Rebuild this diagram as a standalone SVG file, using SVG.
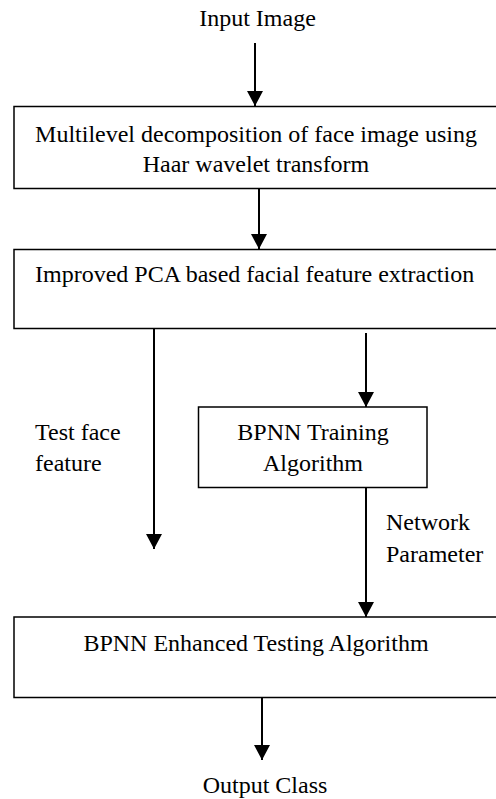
<svg xmlns="http://www.w3.org/2000/svg" width="496" height="799" viewBox="0 0 496 799">
  <style>
    text { font-family: "Liberation Serif", "Times New Roman", serif; font-size: 24px; fill: #000; }
    .box { fill: #fff; stroke: #000; stroke-width: 1.5; }
    .link { stroke: #000; stroke-width: 2; fill: none; marker-end: url(#head); }
  </style>
  <defs>
    <marker id="head" markerUnits="userSpaceOnUse" markerWidth="16" markerHeight="16" refX="15" refY="8" orient="auto">
      <polygon points="0,0 15,8 0,16" fill="#000"/>
    </marker>
  </defs>

  <rect width="496" height="799" fill="#fff"/>

  <!-- connectors -->
  <g id="connectors">
    <line class="link" x1="255" y1="43" x2="255" y2="106"/>
    <line class="link" x1="259" y1="189" x2="259" y2="249"/>
    <line class="link" x1="154" y1="329" x2="154" y2="549"/>
    <line class="link" x1="366" y1="333" x2="366" y2="407"/>
    <line class="link" x1="366" y1="488" x2="366" y2="617"/>
    <line class="link" x1="262" y1="698" x2="262" y2="760"/>
  </g>

  <!-- labels -->
  <g id="input-label">
    <text x="257.5" y="26" text-anchor="middle">Input Image</text>
  </g>

  <g id="decomposition">
    <rect class="box" x="14" y="106.5" width="490" height="82"/>
    <text x="256" y="141.5" text-anchor="middle">Multilevel decomposition of face image using</text>
    <text x="256" y="171.5" text-anchor="middle">Haar wavelet transform</text>
  </g>

  <g id="feature-extraction">
    <rect class="box" x="14" y="249.5" width="490" height="79"/>
    <text x="35" y="282">Improved PCA based facial feature extraction</text>
  </g>

  <g id="test-feature-label">
    <text x="35" y="440">Test face</text>
    <text x="35" y="470.5">feature</text>
  </g>

  <g id="training">
    <rect class="box" x="198.5" y="407" width="228.5" height="80.5"/>
    <text x="313" y="440" text-anchor="middle">BPNN Training</text>
    <text x="313" y="470.5" text-anchor="middle">Algorithm</text>
  </g>

  <g id="network-parameter-label">
    <text x="386" y="530">Network</text>
    <text x="386" y="561.5">Parameter</text>
  </g>

  <g id="testing">
    <rect class="box" x="14" y="617" width="490" height="80.5"/>
    <text x="256" y="650.5" text-anchor="middle">BPNN Enhanced Testing Algorithm</text>
  </g>

  <g id="output-label">
    <text x="265" y="793" text-anchor="middle">Output Class</text>
  </g>
</svg>
